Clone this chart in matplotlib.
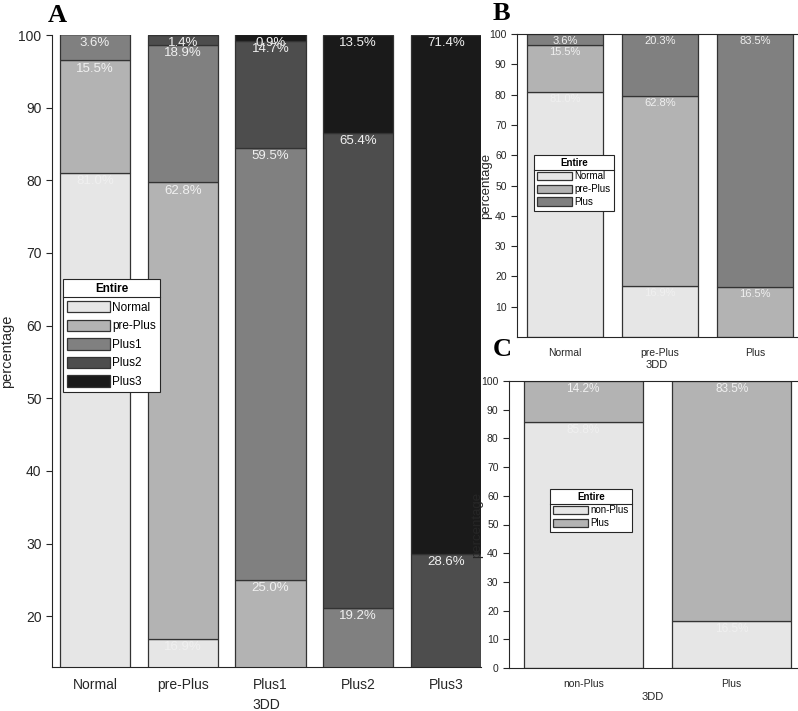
import matplotlib
matplotlib.use("Agg")
import matplotlib.pyplot as plt
from matplotlib.patches import Patch
from matplotlib.lines import Line2D
import numpy as np

# ---------------- data ----------------
A_categories = ['Normal', 'pre-Plus', 'Plus1', 'Plus2', 'Plus3']
A_series_names = ['Normal', 'pre-Plus', 'Plus1', 'Plus2', 'Plus3']
A_normal = [81.0, 16.9, 0.0, 0.0, 0.0]
A_preplus = [15.5, 62.8, 25.0, 1.9, 0.0]
A_plus1 = [3.6, 18.9, 59.5, 19.2, 0.0]
A_plus2 = [0.0, 1.4, 14.7, 65.4, 28.6]
A_plus3 = [0.0, 0.0, 0.9, 13.5, 71.4]

B_categories = ['Normal', 'pre-Plus', 'Plus']
B_series_names = ['Normal', 'pre-Plus', 'Plus']
B_normal = [81.0, 16.9, 0.0]
B_preplus = [15.5, 62.8, 16.5]
B_plus = [3.6, 20.3, 83.5]

C_categories = ['non-Plus', 'Plus']
C_series_names = ['non-Plus', 'Plus']
C_nonplus = [85.8, 16.5]
C_plus = [14.2, 83.5]

grays5 = ['#e6e6e6', '#b3b3b3', '#808080', '#4d4d4d', '#1a1a1a']

W, H = 798, 711
fig = plt.figure(figsize=(W / 100, H / 100), dpi=100)

SANS = ['Liberation Sans', 'DejaVu Sans']
NARROW = ['Liberation Sans Narrow', 'Liberation Sans', 'DejaVu Sans']
SERIF = ['Liberation Serif', 'DejaVu Serif']
SPINE = '#262626'
EDGE = '#333333'
LABEL_COL = '#f0f0f0'


def px_axes(x0, y0, x1, y1):
    return fig.add_axes([x0 / W, 1 - y1 / H, (x1 - x0) / W, (y1 - y0) / H])


def stacked(ax, cats, series, colors, fs, family, ymin):
    x = np.arange(1, len(cats) + 1)
    bottom = np.zeros(len(cats))
    for vals, c in zip(series, colors):
        vals = np.array(vals, dtype=float)
        ax.bar(x, vals, 0.8, bottom=bottom, color=c, edgecolor=EDGE, linewidth=0.9, zorder=2)
        tops = bottom + vals
        for xi, v, t in zip(x, vals, tops):
            if v > 0 and t > ymin + 2:
                ax.annotate(f'{v:.1f}%', xy=(xi, min(t, 100)), xytext=(0, -1.5),
                            textcoords='offset points', ha='center', va='top',
                            color=LABEL_COL, fontsize=fs, family=family, zorder=5,
                            annotation_clip=False)
        bottom = tops
    return x


def style(ax, fs, family, top_spine):
    for s in ['left', 'bottom', 'top', 'right']:
        ax.spines[s].set_color(SPINE)
        ax.spines[s].set_linewidth(0.8)
    ax.spines['right'].set_visible(False)
    ax.spines['top'].set_visible(top_spine)
    ax.tick_params(axis='x', direction='in', length=4, colors=SPINE, labelsize=fs, pad=8)
    ax.tick_params(axis='y', direction='out', length=4, colors=SPINE, labelsize=fs)
    for lab in ax.get_xticklabels() + ax.get_yticklabels():
        lab.set_family(family)


def legend_with_sep(ax, names, colors, title, x0, y0, fs, hl, hh, ls, family):
    handles = [Patch(facecolor=c, edgecolor=EDGE, linewidth=0.9) for c in colors]
    leg = ax.legend(handles, names, title=title, loc='upper left',
                    bbox_to_anchor=(x0 / W, 1 - y0 / H), bbox_transform=fig.transFigure,
                    title_fontproperties={'weight': 'bold', 'size': fs, 'family': family},
                    prop={'family': family, 'size': fs},
                    handlelength=hl, handleheight=hh, handletextpad=0.2, labelspacing=ls,
                    borderpad=0.35, borderaxespad=0, frameon=True, fancybox=False)
    leg.get_frame().set_edgecolor(SPINE)
    leg.get_frame().set_linewidth(0.8)
    leg.get_frame().set_facecolor('white')
    leg.get_frame().set_alpha(1)
    leg.set_zorder(10)
    legends.append(leg)
    return leg


legends = []

# ---------------- Panel A ----------------
axA = px_axes(52, 35, 481, 667)
A_series = [A_normal, A_preplus, A_plus1, A_plus2, A_plus3]
xA = stacked(axA, A_categories, A_series, grays5, 9.5, SANS, 13)
axA.set_ylim(13, 100)
axA.set_xlim(0.51, 5.4)
axA.set_xticks(xA)
axA.set_xticklabels(A_categories)
axA.set_yticks(np.arange(20, 101, 10))
style(axA, 10, SANS, False)
axA.set_xlabel('3DD', fontsize=10, family=SANS, labelpad=4, color=SPINE)
axA.set_ylabel('percentage', fontsize=10.5, family=SANS, color=SPINE)
axA.yaxis.set_label_coords((14 - 52) / 429, 0.5)
legend_with_sep(axA, A_series_names, grays5, 'Entire', 63, 279, 8.5, 3.6, 1.1, 0.5, SANS)

# ---------------- Panel B ----------------
axB = px_axes(517, 34, 797, 337)
B_series = [B_normal, B_preplus, B_plus]
xB = stacked(axB, B_categories, B_series, grays5[:3], 8, NARROW, 0)
axB.set_ylim(0, 100)
axB.set_xlim(0.495, 3.445)
axB.set_xticks(xB)
axB.set_xticklabels(B_categories)
axB.set_yticks(np.arange(10, 101, 10))
style(axB, 7.5, NARROW, True)
axB.set_xlabel('3DD', fontsize=8, family=NARROW, labelpad=1, color=SPINE)
axB.set_ylabel('percentage', fontsize=9.5, family=NARROW, color=SPINE)
axB.yaxis.set_label_coords((492 - 517) / 280, 0.5)
legend_with_sep(axB, B_series_names, grays5[:3], 'Entire', 534, 155, 7, 3.6, 1.0, 0.3, NARROW)

# ---------------- Panel C ----------------
axC = px_axes(509, 381, 797, 668)
C_series = [C_nonplus, C_plus]
xC = stacked(axC, C_categories, C_series, grays5[:2], 8.5, NARROW, 0)
axC.set_ylim(0, 100)
axC.set_xlim(0.5, 2.44)
axC.set_xticks(xC)
axC.set_xticklabels(C_categories)
axC.set_yticks(np.arange(0, 101, 10))
style(axC, 7.5, NARROW, True)
axC.set_xlabel('3DD', fontsize=8, family=NARROW, labelpad=2, color=SPINE)
axC.set_ylabel('percentage', fontsize=9.5, family=NARROW, color=SPINE)
axC.yaxis.set_label_coords((483 - 509) / 288, 0.5)
legend_with_sep(axC, C_series_names, grays5[:2], 'Entire', 550, 489, 7, 3.6, 1.0, 0.3, NARROW)

# panel letters
for letter, (px, py) in zip(['A', 'B', 'C'], [(57, 15), (501, 13), (502, 349)]):
    fig.text(px / W, 1 - py / H, letter, fontsize=19, weight='bold', family=SERIF,
             ha='center', va='center')

# separator lines under legend titles
fig.canvas.draw()
r = fig.canvas.get_renderer()
for leg in legends:
    fb = leg.get_frame().get_window_extent(r)
    tb = leg.get_title().get_window_extent(r)
    ysep = tb.y0 - 2
    line = Line2D([fb.x0, fb.x1], [ysep, ysep], transform=None, color=SPINE, linewidth=0.8, zorder=11)
    fig.add_artist(line)

fig.savefig('out.png', dpi=100)
